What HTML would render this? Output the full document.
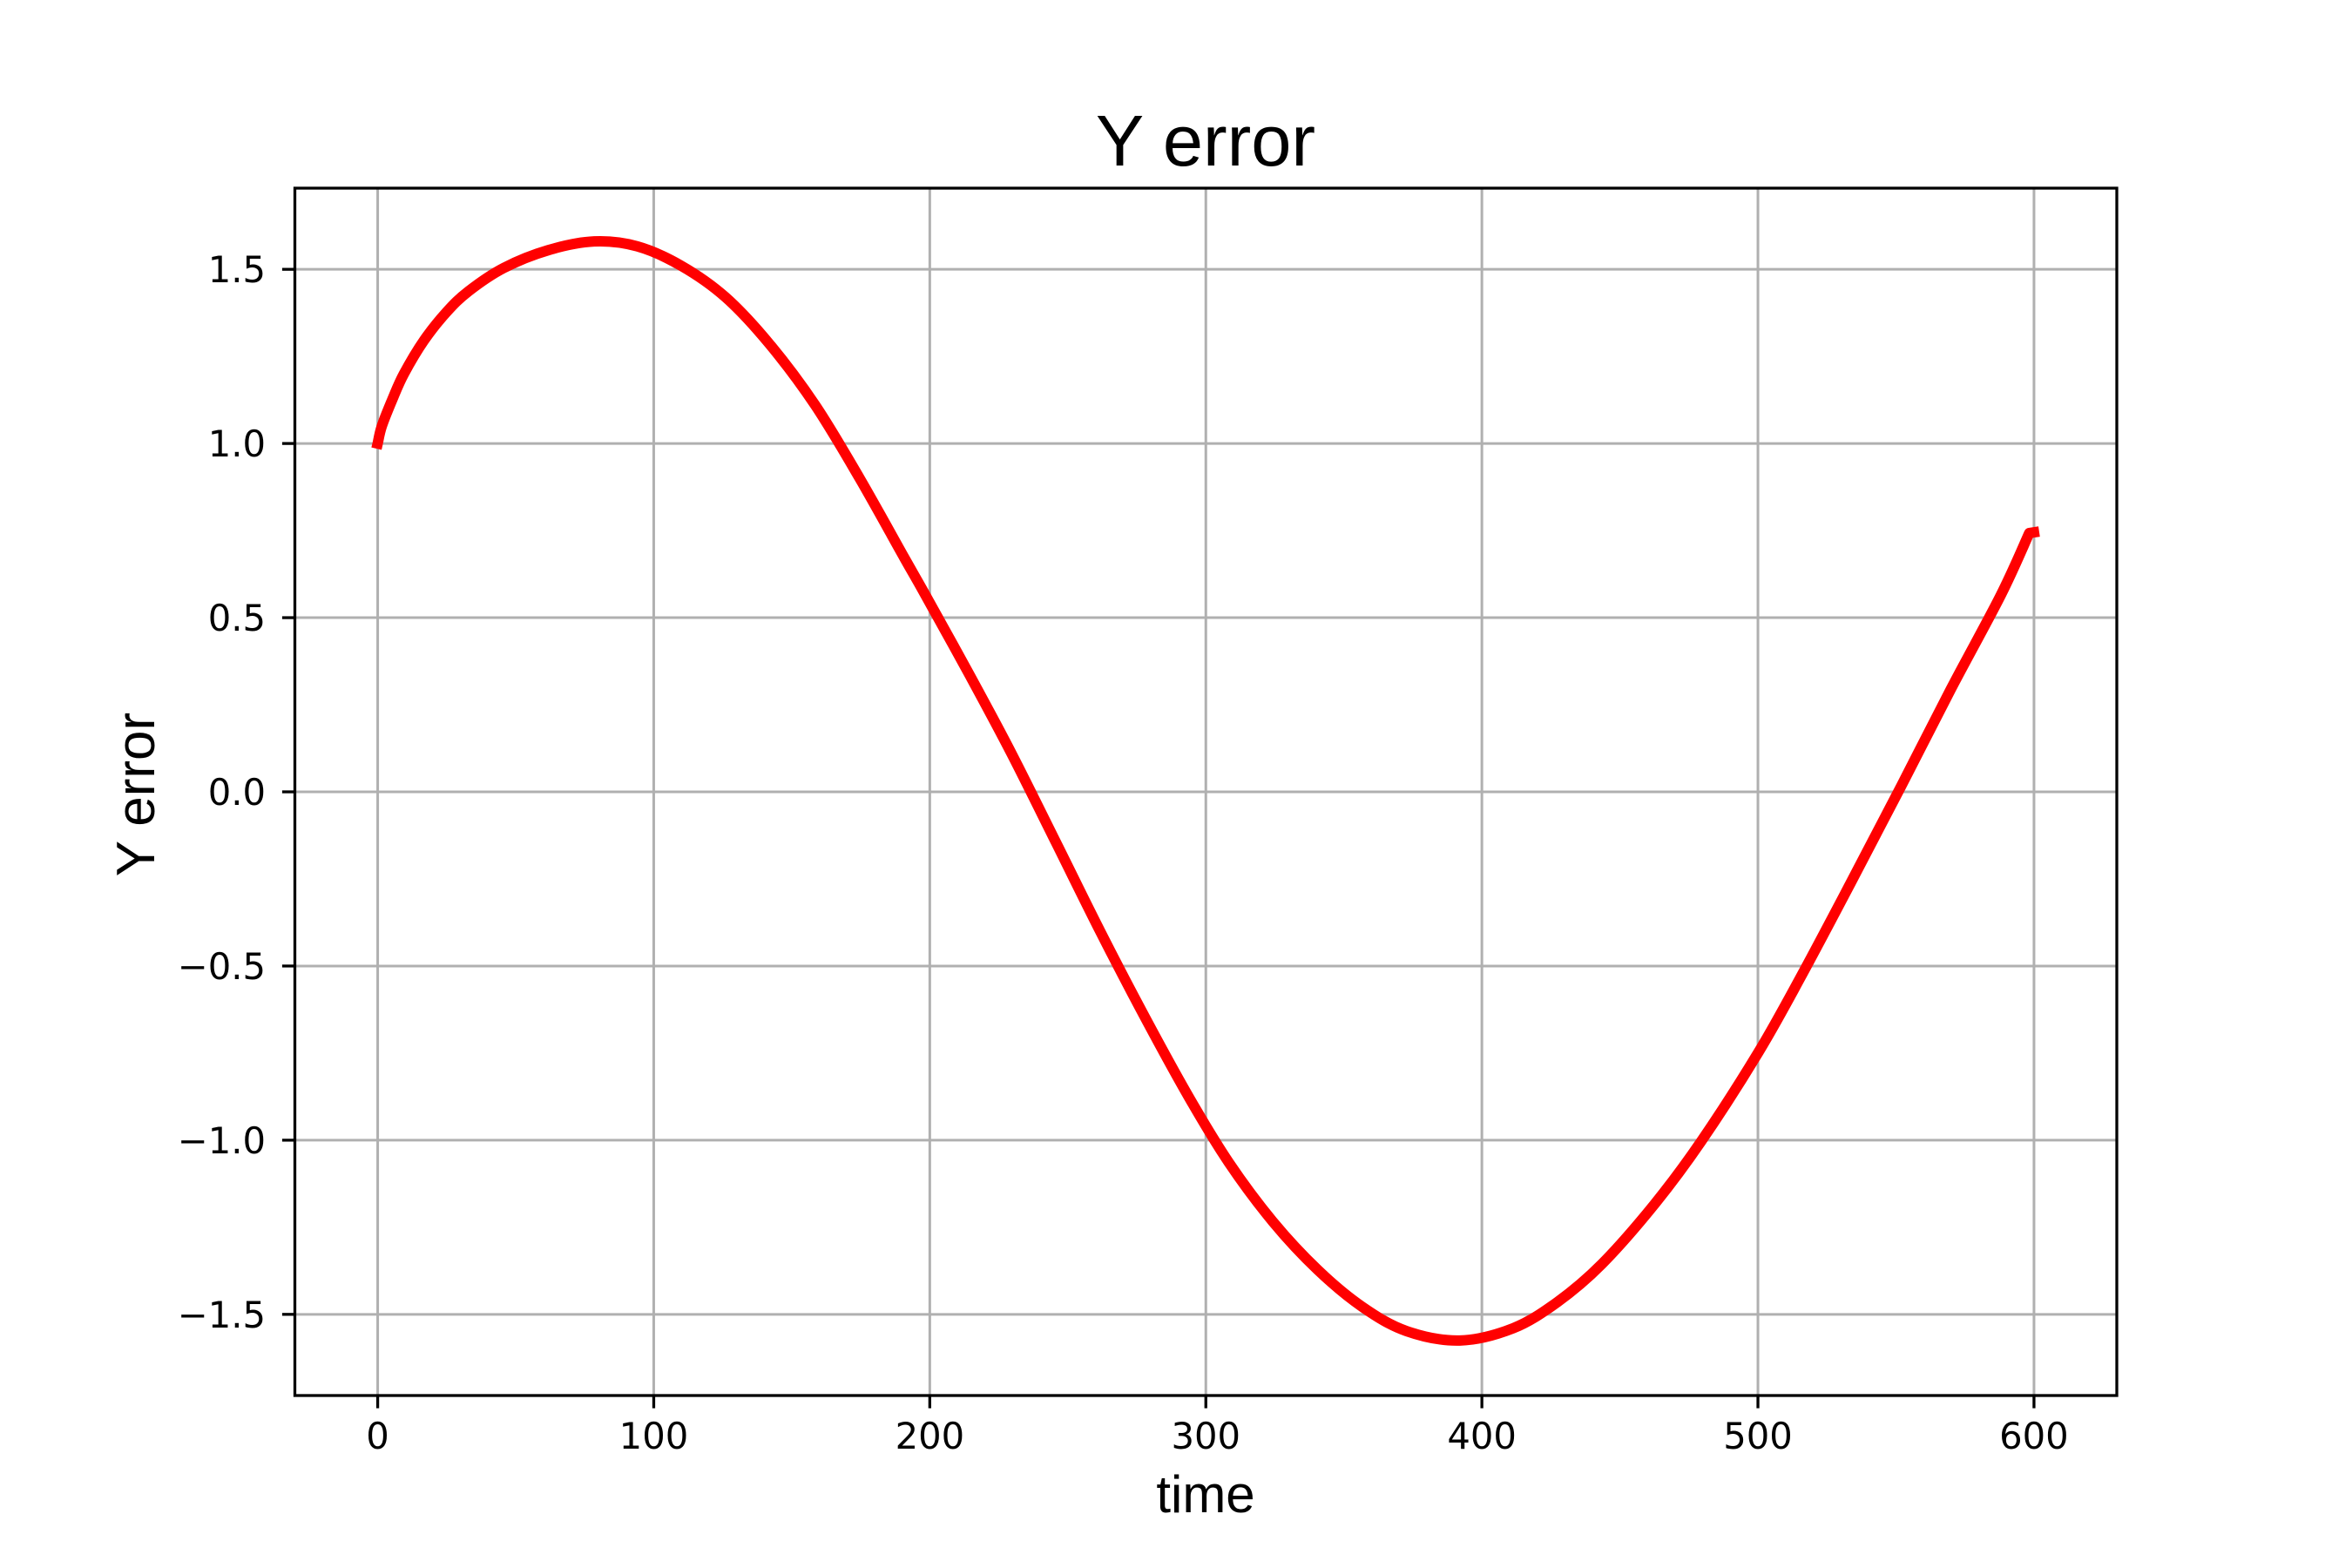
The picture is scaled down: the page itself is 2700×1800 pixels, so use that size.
<!DOCTYPE html>
<html><head><meta charset="utf-8"><style>
html,body{margin:0;padding:0;background:#fff;}
svg{display:block;}
</style></head><body>
<svg id="chart" width="2700" height="1800" viewBox="0 0 2700 1800" xmlns="http://www.w3.org/2000/svg">
<rect width="2700" height="1800" fill="#fff"/>
<g id="grid"></g>
<g id="series"></g>
<g id="axes"></g>
<text x="1384" y="190" text-anchor="middle" font-family="Liberation Sans, Arial, sans-serif" font-size="83">Y error</text>
<text x="1384" y="1736" text-anchor="middle" font-family="Liberation Sans, Arial, sans-serif" font-size="60">time</text>
<text transform="translate(177,912) rotate(-90)" text-anchor="middle" font-family="Liberation Sans, Arial, sans-serif" font-size="62">Y error</text>
</svg>
<script>
const xTicks = [0, 100, 200, 300, 400, 500, 600];
const xTickLabels = ["0", "100", "200", "300", "400", "500", "600"];
const yTicks = [-1.5, -1.0, -0.5, 0.0, 0.5, 1.0, 1.5];
const yTickLabels = ["\u22121.5", "\u22121.0", "\u22120.5", "0.0", "0.5", "1.0", "1.5"];
const timeValues = [0, 1.5, 5.5, 9.5, 16.7, 24.8, 32.9, 45.7, 61.8, 78.4, 94, 110, 126, 142, 158.5, 174.6, 190.7, 198.7, 214.8, 229.6, 245.7, 261.7, 277.8, 293.9, 308.4, 324.4, 340.5, 356.6, 372.7, 392, 411.3, 427.3, 443.4, 462.4, 479.3, 500, 515.6, 533.7, 551.8, 569.9, 588, 598.3, 600];
const yErrorValues = [1.0, 1.05, 1.13, 1.20, 1.295, 1.376, 1.437, 1.504, 1.555, 1.58, 1.566, 1.51, 1.42, 1.285, 1.11, 0.90, 0.673, 0.561, 0.33, 0.11, -0.145, -0.40, -0.645, -0.877, -1.065, -1.235, -1.372, -1.478, -1.548, -1.575, -1.54, -1.465, -1.356, -1.185, -1.005, -0.75, -0.53, -0.26, 0.015, 0.295, 0.565, 0.743, 0.745];

const L = 338.5, R = 2430, T = 216, B = 1602;
const xMin = -30, xMax = 630, yMin = -1.733, yMax = 1.733;
function xScale(v){ return L + (v - xMin) / (xMax - xMin) * (R - L); }
function yScale(v){ return B - (v - yMin) / (yMax - yMin) * (B - T); }
const NS = "http://www.w3.org/2000/svg";
function mk(tag, attrs, parent){
  const e = document.createElementNS(NS, tag);
  for (const k in attrs) e.setAttribute(k, attrs[k]);
  parent.appendChild(e);
  return e;
}
const grid = document.getElementById('grid');
const axes = document.getElementById('axes');
const series = document.getElementById('series');
const font = 'DejaVu Sans, Liberation Sans, sans-serif';

xTicks.forEach((v, i) => {
  const x = xScale(v);
  const g = mk('line', {x1:x, x2:x, y1:T, y2:B, stroke:'#b0b0b0', 'stroke-width':3}, grid);
  
  
  const t = mk('line', {x1:x, x2:x, y1:B, y2:B+14.6, stroke:'#000', 'stroke-width':3.3}, axes);
  
  
  const lb = mk('text', {x:x, y:1663, 'text-anchor':'middle', 'font-family':font, 'font-size':41.7}, axes);
  lb.textContent = xTickLabels[i];
  
  
});
yTicks.forEach((v, i) => {
  const y = yScale(v);
  const g = mk('line', {x1:L, x2:R, y1:y, y2:y, stroke:'#b0b0b0', 'stroke-width':3}, grid);
  
  
  const t = mk('line', {x1:L-14.6, x2:L, y1:y, y2:y, stroke:'#000', 'stroke-width':3.3}, axes);
  
  
  const lb = mk('text', {x:305, y:y+15, 'text-anchor':'end', 'font-family':font, 'font-size':41.7}, axes);
  lb.textContent = yTickLabels[i];
  
  
});
const frame = mk('rect', {x:L, y:T, width:R-L, height:B-T, fill:'none', stroke:'#000', 'stroke-width':3.3}, axes);



const pts = timeValues.map((t, i) => [xScale(t), yScale(yErrorValues[i])]);
const n = pts.length - 1;
let d = 'M' + pts[0][0].toFixed(2) + ' ' + pts[0][1].toFixed(2);
for (let i = 0; i < n - 1; i++) {
  const p0 = pts[Math.max(0, i-1)], p1 = pts[i], p2 = pts[i+1], p3 = pts[Math.min(n-1, i+2)];
  const c1x = p1[0] + (p2[0]-p0[0])/6, c1y = p1[1] + (p2[1]-p0[1])/6;
  const c2x = p2[0] - (p3[0]-p1[0])/6, c2y = p2[1] - (p3[1]-p1[1])/6;
  d += ' C' + c1x.toFixed(2) + ' ' + c1y.toFixed(2) + ' ' + c2x.toFixed(2) + ' ' + c2y.toFixed(2) + ' ' + p2[0].toFixed(2) + ' ' + p2[1].toFixed(2);
}
d += ' L' + pts[n][0].toFixed(2) + ' ' + pts[n][1].toFixed(2);
const path = mk('path', {d:d, fill:'none', stroke:'#ff0000', 'stroke-width':12, 'stroke-linejoin':'round', 'stroke-linecap':'square'}, series);


</script>
</body></html>
